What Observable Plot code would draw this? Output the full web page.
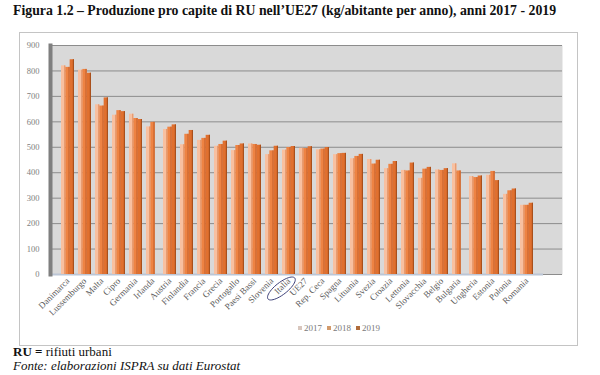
<!DOCTYPE html>
<html>
<head>
<meta charset="utf-8">
<script src="https://cdn.jsdelivr.net/npm/d3@7"></script>
<script src="https://cdn.jsdelivr.net/npm/@observablehq/plot@0.6"></script>
<style>
  body { margin: 0; background: #fff; width: 600px; height: 375px; position: relative; overflow: hidden; font-family: "Liberation Serif", "Times New Roman", serif; }
  #title { position: absolute; left: 13px; top: 3px; font-size: 13.8px; font-weight: bold; color: #111; white-space: nowrap; }
  #box { position: absolute; left: 19px; top: 32px; width: 557px; height: 312px; border: 1px solid #c4c4c4; }
  #chart { position: absolute; left: 0px; top: 0px; }
  #legend { position: absolute; left: 298px; top: 323px; font-size: 9px; color: #7a7a7a; white-space: nowrap; }
  #legend span.sw { display: inline-block; width: 4px; height: 4px; margin-right: 2px; vertical-align: 1px; }
  #legend span.it { margin-right: 5px; }
  #foot1 { position: absolute; left: 13px; top: 344px; font-size: 13px; color: #111; white-space: nowrap; }
  #foot2 { position: absolute; left: 13px; top: 358px; font-size: 13px; font-style: italic; color: #111; white-space: nowrap; }
</style>
</head>
<body>
<div id="title">Figura 1.2 – Produzione pro capite di RU nell’UE27 (kg/abitante per anno), anni 2017 - 2019</div>
<div id="box"><div id="chart"></div></div>
<div id="legend"></div>
<div id="foot1"><b>RU =</b> rifiuti urbani</div>
<div id="foot2">Fonte: elaborazioni ISPRA su dati Eurostat</div>
<script>
const countries = ["Danimarca","Lussemburgo","Malta","Cipro","Germania","Irlanda","Austria","Finlandia","Francia","Grecia","Portogallo","Paesi Bassi","Slovenia","Italia","UE27","Rep. Ceca","Spagna","Lituania","Svezia","Croazia","Lettonia","Slovacchia","Belgio","Bulgaria","Ungheria","Estonia","Polonia","Romania"];
const years = ["2017","2018","2019"];
const v2017 = [820,803,667,626,630,580,570,510,527,504,487,513,471,489,496,490,471,455,452,416,409,378,411,435,385,390,315,272];
const v2018 = [814,806,662,644,613,598,579,551,535,511,507,511,486,499,495,493,475,464,434,433,407,414,409,407,381,405,329,272];
const v2019 = [844,791,694,640,609,null,588,566,547,524,513,508,504,503,502,499,476,472,449,444,438,421,416,null,387,369,336,280];
const yTicks = [0,100,200,300,400,500,600,700,800,900];

const series = [v2017, v2018, v2019];
const frontColors = ["#f8c0a0", "#ee8343", "#e0702f"];
const sideColors = ["#e6976a", "#c8622a", "#a9501c"];
const legendColors = ["#d8c6bd", "#d29a6c", "#b06c3c"];

const data = countries.flatMap((c, i) => years.map((y, k) => ({country: c, year: y, k, value: series[k][i]})))
  .filter(d => d.value != null);

const w = 13.0 / 3; // width of one bar inside the country band
const barMarks = years.flatMap((y, k) => {
  const rows = data.filter(d => d.year === y);
  return [
    Plot.barY(rows, {x: "country", y: "value", fill: frontColors[k], insetLeft: k * w, insetRight: (2 - k) * w}),
    Plot.barY(rows, {x: "country", y: "value", fill: sideColors[k], insetLeft: k * w + w - 1.2, insetRight: (2 - k) * w})
  ];
});

const ellipseSym = {
  draw(ctx, size) {
    const a = 17, b = 6, th = -38 * Math.PI / 180;
    for (let i = 0; i <= 48; i++) {
      const t = i / 48 * 2 * Math.PI;
      const x = a * Math.cos(t), yy = b * Math.sin(t);
      const X = x * Math.cos(th) - yy * Math.sin(th);
      const Y = x * Math.sin(th) + yy * Math.cos(th);
      if (i === 0) ctx.moveTo(X, Y); else ctx.lineTo(X, Y);
    }
    ctx.closePath();
  }
};

const chart = Plot.plot({
  width: 556,
  height: 300,
  marginLeft: 30,
  marginRight: 33,
  marginTop: 12,
  marginBottom: 59,
  style: {fontFamily: "Liberation Serif, Times New Roman, serif", fontSize: "9px", background: "transparent", color: "#5a5a5a", overflow: "visible"},
  x: {domain: countries, paddingInner: 0.26, paddingOuter: 0.13, tickSize: 0, tickPadding: 5, tickRotate: -45, label: null},
  y: {domain: [0, 900], ticks: yTicks, tickSize: 0, tickPadding: 11, label: null, tickFormat: d => String(d)},
  marks: [
    Plot.frame({fill: "#d9d9d9", insetRight: -19}),
    Plot.ruleY(yTicks, {stroke: "#8c8c8c", strokeWidth: 1, insetRight: -19}),
    Plot.ruleY([0], {stroke: "#bcc6d6", strokeWidth: 2}),
    Plot.frame({anchor: "left", stroke: "#7f7f7f", strokeWidth: 4}),
    ...barMarks,
    Plot.dot([{country: "Italia"}], {x: "country", y: () => 0, symbol: ellipseSym, stroke: "#3c3f78", fill: "none", strokeWidth: 1, dx: -7.6, dy: 14})
  ]
});
document.getElementById("chart").appendChild(chart);

d3.select(chart).selectAll('g[aria-label="y-axis tick label"] text, g[aria-label="y-axis"] text')
  .style("font-size", "8.5px").attr("fill", "#808080");

const legend = document.getElementById("legend");
years.forEach((y, k) => {
  const it = document.createElement("span");
  it.className = "it";
  it.innerHTML = `<span class="sw" style="background:${legendColors[k]}"></span>${y}`;
  legend.appendChild(it);
});
</script>
</body>
</html>
